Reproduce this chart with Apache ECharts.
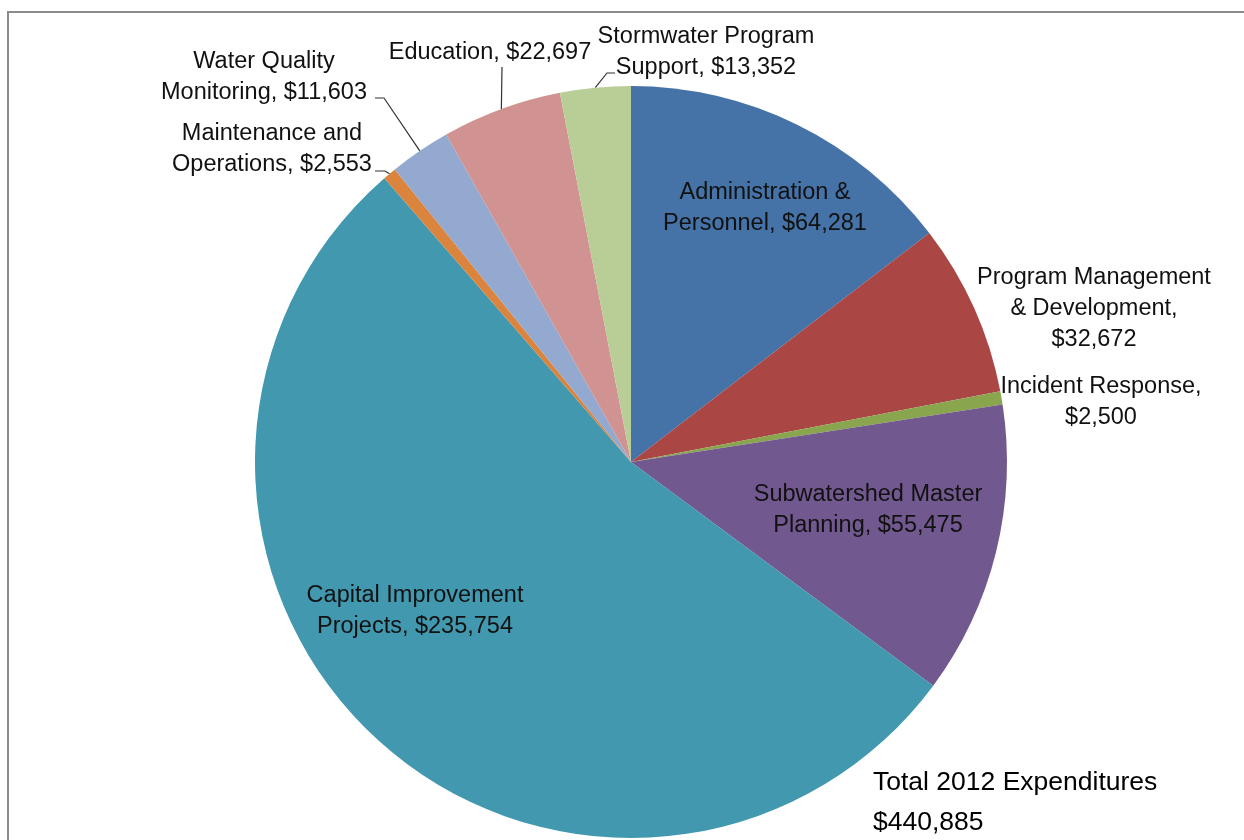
<!DOCTYPE html>
<html>
<head>
<meta charset="utf-8">
<script src="https://cdn.jsdelivr.net/npm/echarts@6/dist/echarts.min.js"></script>
<style>
  html, body { margin: 0; padding: 0; background: #fff; }
  #chart { width: 1244px; height: 840px; }
</style>
</head>
<body>
<div id="chart"></div>
<script>
// ---- data ----
const categories = [
  'Administration &\nPersonnel',
  'Program Management\n& Development',
  'Incident Response',
  'Subwatershed Master\nPlanning',
  'Capital Improvement\nProjects',
  'Maintenance and\nOperations',
  'Water Quality\nMonitoring',
  'Education',
  'Stormwater Program\nSupport'
];
const values = [64281, 32672, 2500, 55475, 235754, 2553, 11603, 22697, 13352];
const totalTitle = 'Total 2012 Expenditures';
const totalValue = '$440,885';

// ---- styles ----
const colors = ['#4572A7', '#AA4643', '#89A54E', '#71588F', '#4198AF', '#DB843D', '#93A9CF', '#D19392', '#B9CD96'];
const separators = [', $', ',\n$', ',\n$', ', $', ', $', ', $', ', $', ', $', ', $'];
const FONT = '"Liberation Sans", Arial, sans-serif';
// label centre positions and leader line elbow/end points (layout only)
const labelPlace = [
  { x: 765, y: 208, line: null, inside: true },
  { x: 1094, y: 309, line: null },
  { x: 1101, y: 402, line: null },
  { x: 868, y: 510, line: null, inside: true },
  { x: 415, y: 611, line: null, inside: true },
  { x: 272, y: 149, line: [[385, 171], [375, 171]] },
  { x: 264, y: 77, line: [[384, 98], [375, 98]] },
  { x: 490, y: 53, line: [[502, 67], [502, 67]] },
  { x: 706, y: 52, line: [[607, 73], [615, 73]] }
];

const chart = echarts.init(document.getElementById('chart'), null, { renderer: 'canvas' });

const data = values.map((v, i) => ({
  name: categories[i],
  value: v,
  itemStyle: { color: colors[i] },
  label: { position: labelPlace[i].inside ? 'inside' : 'outside' },
  labelLine: { show: !!labelPlace[i].line }
}));

chart.setOption({
  animation: false,
  backgroundColor: '#fff',
  graphic: [
    {
      type: 'rect', silent: true, z: -10,
      shape: { x: 8, y: 12, width: 1400, height: 1000 },
      style: { fill: 'none', stroke: '#8c8c8c', lineWidth: 2 }
    },
    {
      type: 'text', silent: true,
      style: {
        text: totalTitle + '\n' + totalValue,
        x: 873, y: 763,
        font: '26.5px ' + FONT,
        fill: '#000',
        lineHeight: 40,
        textVerticalAlign: 'top'
      }
    }
  ],
  series: [{
    type: 'pie',
    center: [631, 462],
    radius: [0, 376],
    startAngle: 90,
    clockwise: true,
    avoidLabelOverlap: false,
    emphasis: { disabled: true },
    itemStyle: { borderWidth: 0 },
    label: {
      show: true,
      fontFamily: FONT,
      fontSize: 23.5,
      lineHeight: 31,
      color: '#111',
      align: 'center',
      formatter: p => p.name + separators[p.dataIndex] + p.value.toLocaleString('en-US')
    },
    labelLine: {
      show: true,
      length: 10,
      length2: 10,
      lineStyle: { color: '#333', width: 1.2 }
    },
    labelLayout: params => {
      const pl = labelPlace[params.dataIndex];
      const out = { x: pl.x, y: pl.y, align: 'center', verticalAlign: 'middle' };
      if (pl.line && params.labelLinePoints) {
        const start = params.labelLinePoints[0];
        out.labelLinePoints = [start, pl.line[0], pl.line[1]];
      }
      return out;
    },
    data: data
  }]
});
</script>
</body>
</html>
